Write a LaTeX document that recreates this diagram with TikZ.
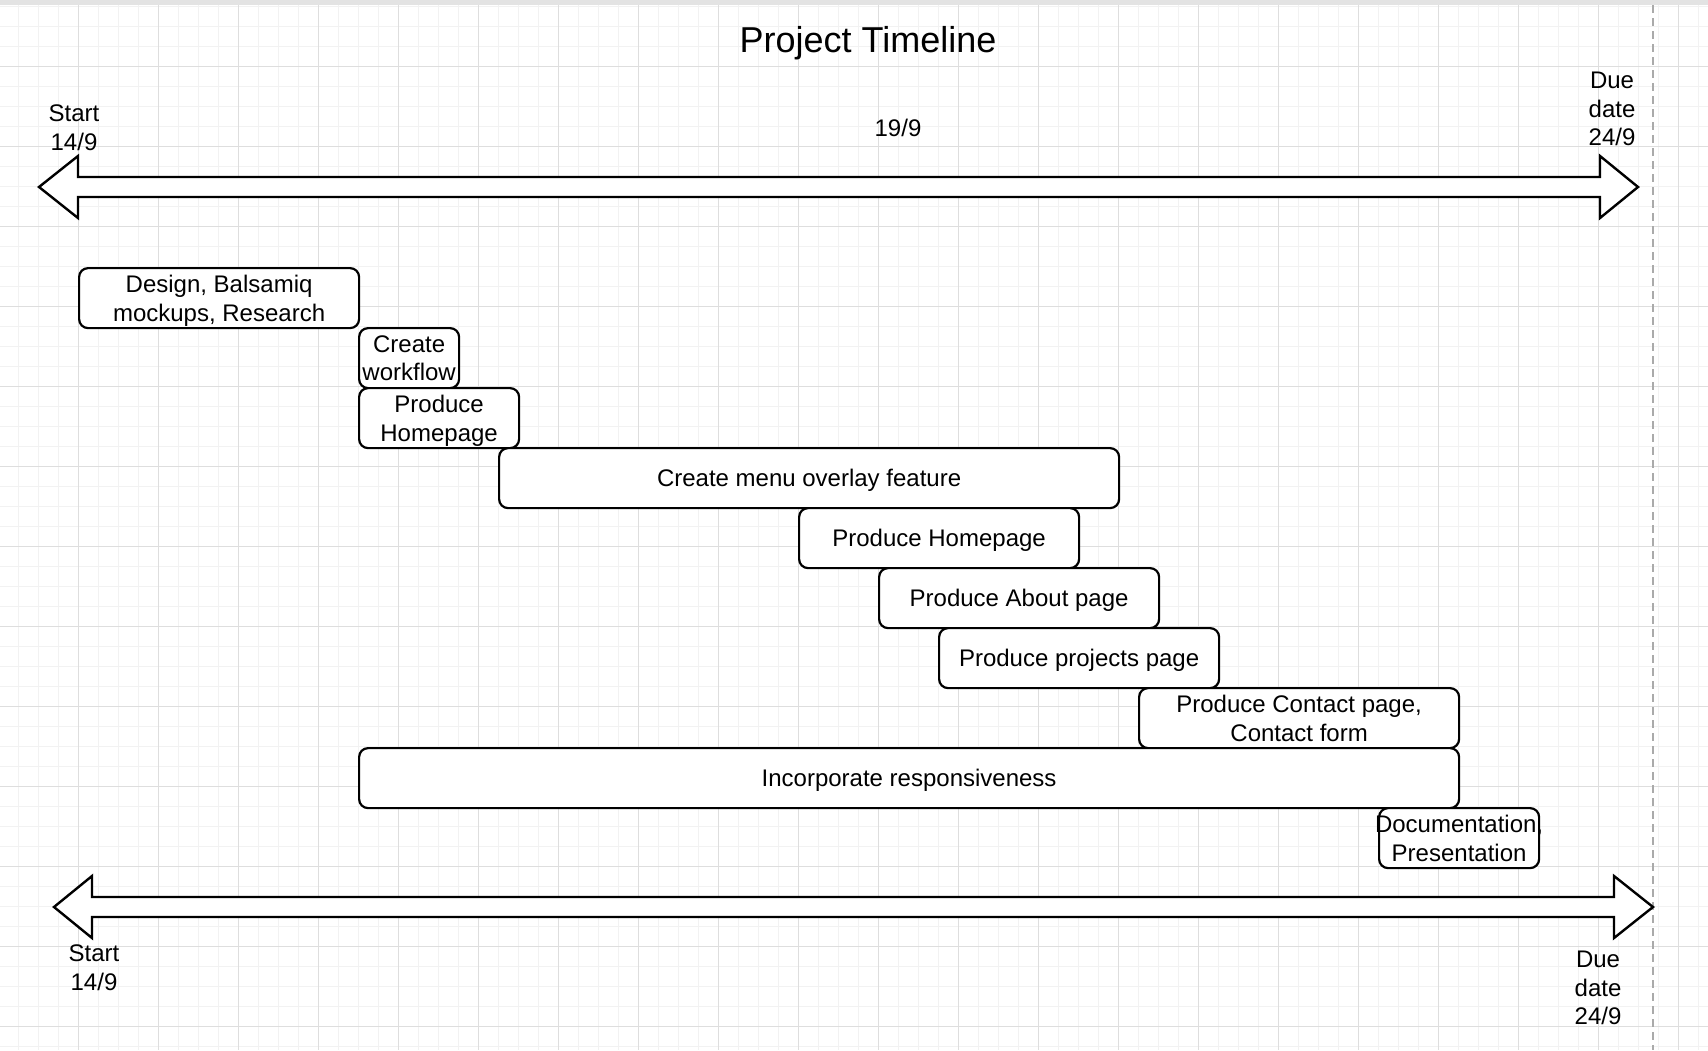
\documentclass[tikz,border=0pt]{standalone}
\usepackage{fontspec}
\setmainfont{Liberation Sans}
\usepackage{tikz}
\usetikzlibrary{positioning}

\definecolor{gridminor}{HTML}{F2F2F2}
\definecolor{gridmajor}{HTML}{DEDEDE}
\definecolor{guide}{HTML}{AAAAAA}

\begin{document}
\begin{tikzpicture}[x=1pt, y=-1pt,
					minorgrid/.style={draw=gridminor, line width=1pt},
					majorgrid/.style={draw=gridmajor, line width=1pt},
					timeaxis/.style={draw, fill=white, line width=2.4pt},
					task/.style={draw, fill=white, rounded corners=9pt, line width=2.2pt,
						minimum height=60pt, inner sep=0pt, text depth=0pt, anchor=north west,
						align=center, font=\fontsize{24}{28.8}\selectfont},
					datelabel/.style={inner sep=0pt, align=center, font=\fontsize{24}{28.8}\selectfont}]

	\useasboundingbox (0,0) rectangle (1708,1050);
	\fill[white] (0,0) rectangle (1708,1050);

	% grid
	\foreach \k in {0,...,84} \draw[minorgrid] (18.33+20*\k,5) -- (18.33+20*\k,1050);
	\foreach \k in {0,...,52} \draw[minorgrid] (0,6.67+20*\k) -- (1708,6.67+20*\k);
	\foreach \k in {0,...,20} \draw[majorgrid] (78.33+80*\k,5) -- (78.33+80*\k,1050);
	\foreach \k in {0,...,12} \draw[majorgrid] (0,66.67+80*\k) -- (1708,66.67+80*\k);
	\fill[gray!22] (0,0) rectangle (1708,5);
	\draw[guide, line width=2pt, dash pattern=on 8pt off 5pt] (1653,5) -- (1653,1050);

	% time axes
	\draw[timeaxis] (39,187) -- (78,156) -- (78,177) -- (1600,177) -- (1600,156) -- (1638,187)
		-- (1600,218) -- (1600,197) -- (78,197) -- (78,218) -- cycle;
	\draw[timeaxis] (54,907) -- (92,876) -- (92,897) -- (1614,897) -- (1614,876) -- (1653,907)
		-- (1614,938) -- (1614,917) -- (92,917) -- (92,938) -- cycle;

	\node[font=\fontsize{36}{43}\selectfont, inner sep=0pt] (title) at (868,43.5) {Project Timeline};
	\node[datelabel] (start1) at (74,128)   {Start\\14/9};
	\node[datelabel] (mid)    at (898,128)  {19/9};
	\node[datelabel] (due1)   at (1612,109) {Due\\date\\24/9};
	\node[datelabel] (start2) at (94,968)   {Start\\14/9};
	\node[datelabel] (due2)   at (1598,988) {Due\\date\\24/9};

	% tasks
	\node[task, minimum width=280pt]  (design)     at (78,267)   {Design, Balsamiq\\mockups, Research};
	\node[task, minimum width=100pt]  (workflow)   at (358,327)  {Create\\workflow};
	\node[task, minimum width=160pt]  (homepage1)  at (358,387)  {Produce\\Homepage};
	\node[task, minimum width=620pt]  (menu)       at (498,447)  {Create menu overlay feature};
	\node[task, minimum width=280pt]  (homepage2)  at (798,507)  {Produce Homepage};
	\node[task, minimum width=280pt]  (about)      at (878,567)  {Produce About page};
	\node[task, minimum width=280pt]  (projects)   at (938,627)  {Produce projects page};
	\node[task, minimum width=320pt]  (contact)    at (1138,687) {Produce Contact page,\\Contact form};
	\node[task, minimum width=1100pt] (responsive) at (358,747)  {Incorporate responsiveness};
	\node[task, minimum width=160pt]  (docs)       at (1378,807) {\makebox[150pt]{Documentation,}\\Presentation};
\end{tikzpicture}
\end{document}
